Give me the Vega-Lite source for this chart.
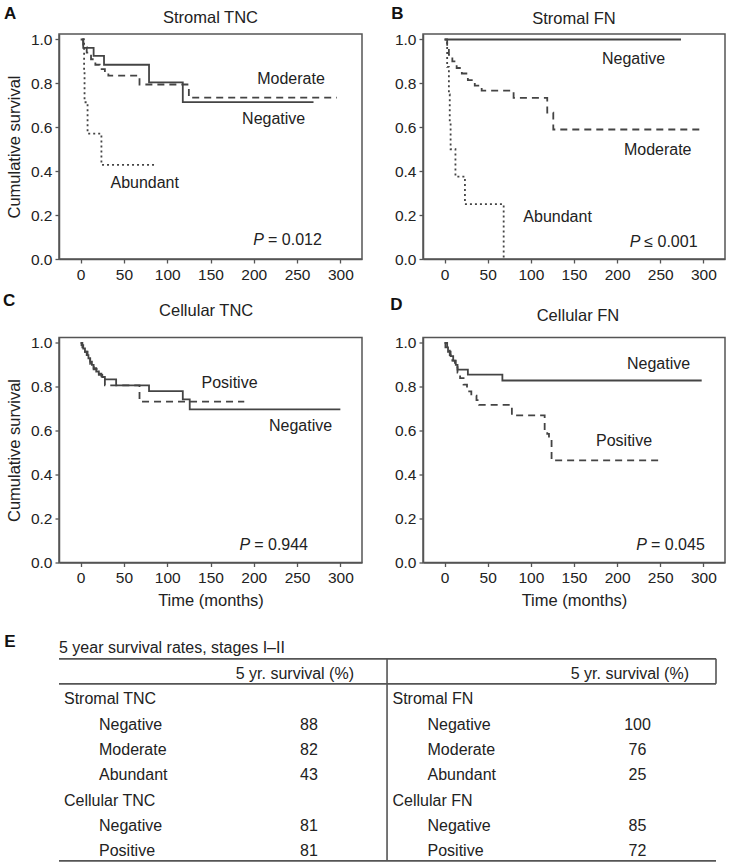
{
  "$schema": "https://vega.github.io/schema/vega-lite/v6.json",
  "padding": {"left": 2, "top": 4, "right": 0, "bottom": 0},
  "datasets": {
    "km": [
      {"panel":"A","group":"Negative","t":0,"s":1},{"panel":"A","group":"Negative","t":3,"s":0.962},{"panel":"A","group":"Negative","t":15,"s":0.925},{"panel":"A","group":"Negative","t":27,"s":0.885},{"panel":"A","group":"Negative","t":79,"s":0.805},{"panel":"A","group":"Negative","t":118,"s":0.715},{"panel":"A","group":"Negative","t":269,"s":0.715},
      {"panel":"A","group":"Moderate","t":2,"s":1},{"panel":"A","group":"Moderate","t":3,"s":0.965},{"panel":"A","group":"Moderate","t":7,"s":0.94},{"panel":"A","group":"Moderate","t":12,"s":0.91},{"panel":"A","group":"Moderate","t":17,"s":0.885},{"panel":"A","group":"Moderate","t":22,"s":0.865},{"panel":"A","group":"Moderate","t":28,"s":0.85},{"panel":"A","group":"Moderate","t":32,"s":0.835},{"panel":"A","group":"Moderate","t":68,"s":0.795},{"panel":"A","group":"Moderate","t":125,"s":0.735},{"panel":"A","group":"Moderate","t":296,"s":0.735},
      {"panel":"A","group":"Abundant","t":2,"s":1},{"panel":"A","group":"Abundant","t":4,"s":0.857},{"panel":"A","group":"Abundant","t":4.5,"s":0.714},{"panel":"A","group":"Abundant","t":8,"s":0.571},{"panel":"A","group":"Abundant","t":24,"s":0.429},{"panel":"A","group":"Abundant","t":85,"s":0.429},
      {"panel":"B","group":"Negative","t":0,"s":1},{"panel":"B","group":"Negative","t":274,"s":1},
      {"panel":"B","group":"Moderate","t":2,"s":1},{"panel":"B","group":"Moderate","t":3,"s":0.96},{"panel":"B","group":"Moderate","t":5,"s":0.93},{"panel":"B","group":"Moderate","t":9,"s":0.9},{"panel":"B","group":"Moderate","t":14,"s":0.87},{"panel":"B","group":"Moderate","t":20,"s":0.845},{"panel":"B","group":"Moderate","t":27,"s":0.815},{"panel":"B","group":"Moderate","t":35,"s":0.79},{"panel":"B","group":"Moderate","t":43,"s":0.767},{"panel":"B","group":"Moderate","t":80,"s":0.734},{"panel":"B","group":"Moderate","t":119,"s":0.667},{"panel":"B","group":"Moderate","t":126,"s":0.59},{"panel":"B","group":"Moderate","t":300,"s":0.59},
      {"panel":"B","group":"Abundant","t":0,"s":1},{"panel":"B","group":"Abundant","t":3,"s":0.875},{"panel":"B","group":"Abundant","t":5,"s":0.75},{"panel":"B","group":"Abundant","t":6,"s":0.625},{"panel":"B","group":"Abundant","t":7,"s":0.5},{"panel":"B","group":"Abundant","t":12.6,"s":0.375},{"panel":"B","group":"Abundant","t":23.6,"s":0.25},{"panel":"B","group":"Abundant","t":68.5,"s":0},
      {"panel":"C","group":"Negative","t":0,"s":1},{"panel":"C","group":"Negative","t":1,"s":0.99},{"panel":"C","group":"Negative","t":3,"s":0.975},{"panel":"C","group":"Negative","t":5,"s":0.96},{"panel":"C","group":"Negative","t":7,"s":0.945},{"panel":"C","group":"Negative","t":9,"s":0.93},{"panel":"C","group":"Negative","t":11,"s":0.915},{"panel":"C","group":"Negative","t":13,"s":0.9},{"panel":"C","group":"Negative","t":15,"s":0.885},{"panel":"C","group":"Negative","t":18,"s":0.87},{"panel":"C","group":"Negative","t":21,"s":0.855},{"panel":"C","group":"Negative","t":25,"s":0.845},{"panel":"C","group":"Negative","t":28,"s":0.834},{"panel":"C","group":"Negative","t":41,"s":0.807},{"panel":"C","group":"Negative","t":79,"s":0.781},{"panel":"C","group":"Negative","t":118,"s":0.743},{"panel":"C","group":"Negative","t":126,"s":0.698},{"panel":"C","group":"Negative","t":300,"s":0.698},
      {"panel":"C","group":"Positive","t":0,"s":1},{"panel":"C","group":"Positive","t":2,"s":0.98},{"panel":"C","group":"Positive","t":5,"s":0.96},{"panel":"C","group":"Positive","t":8,"s":0.93},{"panel":"C","group":"Positive","t":11,"s":0.905},{"panel":"C","group":"Positive","t":15,"s":0.88},{"panel":"C","group":"Positive","t":19,"s":0.86},{"panel":"C","group":"Positive","t":24,"s":0.84},{"panel":"C","group":"Positive","t":28,"s":0.807},{"panel":"C","group":"Positive","t":68,"s":0.733},{"panel":"C","group":"Positive","t":189,"s":0.733},
      {"panel":"D","group":"Negative","t":0,"s":1},{"panel":"D","group":"Negative","t":1,"s":0.98},{"panel":"D","group":"Negative","t":4,"s":0.96},{"panel":"D","group":"Negative","t":7,"s":0.94},{"panel":"D","group":"Negative","t":10,"s":0.92},{"panel":"D","group":"Negative","t":13,"s":0.9},{"panel":"D","group":"Negative","t":15,"s":0.879},{"panel":"D","group":"Negative","t":27,"s":0.856},{"panel":"D","group":"Negative","t":67,"s":0.829},{"panel":"D","group":"Negative","t":298,"s":0.829},
      {"panel":"D","group":"Positive","t":0,"s":1},{"panel":"D","group":"Positive","t":3,"s":0.97},{"panel":"D","group":"Positive","t":6,"s":0.945},{"panel":"D","group":"Positive","t":9,"s":0.92},{"panel":"D","group":"Positive","t":12,"s":0.89},{"panel":"D","group":"Positive","t":15,"s":0.865},{"panel":"D","group":"Positive","t":18,"s":0.84},{"panel":"D","group":"Positive","t":22,"s":0.81},{"panel":"D","group":"Positive","t":26,"s":0.78},{"panel":"D","group":"Positive","t":31,"s":0.76},{"panel":"D","group":"Positive","t":37,"s":0.74},{"panel":"D","group":"Positive","t":40,"s":0.718},{"panel":"D","group":"Positive","t":78,"s":0.67},{"panel":"D","group":"Positive","t":116,"s":0.6},{"panel":"D","group":"Positive","t":119,"s":0.586},{"panel":"D","group":"Positive","t":121,"s":0.565},{"panel":"D","group":"Positive","t":124,"s":0.465},{"panel":"D","group":"Positive","t":250,"s":0.465}
    ],
    "ann": [
      {"panel":"A","text":"Moderate","t":243,"s":0.82},{"panel":"A","text":"Negative","t":223,"s":0.64},{"panel":"A","text":"Abundant","t":74,"s":0.345},
      {"panel":"B","text":"Negative","t":219,"s":0.912},{"panel":"B","text":"Moderate","t":247,"s":0.498},{"panel":"B","text":"Abundant","t":131,"s":0.19},
      {"panel":"C","text":"Positive","t":172,"s":0.819},{"panel":"C","text":"Negative","t":254,"s":0.622},
      {"panel":"D","text":"Negative","t":248,"s":0.905},{"panel":"D","text":"Positive","t":208,"s":0.553}
    ],
    "pv": [
      {"panel":"A","rest":"= 0.012","t":213,"s":0.088},
      {"panel":"B","rest":"≤ 0.001","t":228,"s":0.076},
      {"panel":"C","rest":"= 0.944","t":197,"s":0.079},
      {"panel":"D","rest":"= 0.045","t":235.7,"s":0.079}
    ],
    "tbl": [
      {"side":"L","kind":"title","row":-1,"text":"5 year survival rates, stages I–II"},
      {"side":"L","kind":"header","row":0,"text":"5 yr. survival (%)"},
      {"side":"R","kind":"header","row":0,"text":"5 yr. survival (%)"},
      {"side":"L","kind":"group","row":1,"text":"Stromal TNC"},
      {"side":"L","kind":"sub","row":2,"text":"Negative","value":88},
      {"side":"L","kind":"sub","row":3,"text":"Moderate","value":82},
      {"side":"L","kind":"sub","row":4,"text":"Abundant","value":43},
      {"side":"L","kind":"group","row":5,"text":"Cellular TNC"},
      {"side":"L","kind":"sub","row":6,"text":"Negative","value":81},
      {"side":"L","kind":"sub","row":7,"text":"Positive","value":81},
      {"side":"R","kind":"group","row":1,"text":"Stromal FN"},
      {"side":"R","kind":"sub","row":2,"text":"Negative","value":100},
      {"side":"R","kind":"sub","row":3,"text":"Moderate","value":76},
      {"side":"R","kind":"sub","row":4,"text":"Abundant","value":25},
      {"side":"R","kind":"group","row":5,"text":"Cellular FN"},
      {"side":"R","kind":"sub","row":6,"text":"Negative","value":85},
      {"side":"R","kind":"sub","row":7,"text":"Positive","value":72}
    ]
  },
  "vconcat": [
    {
      "hconcat": [
        {
          "width": 303, "height": 225,
          "layer": [
            {"data": {"name": "km"}, "transform": [{"filter": "datum.panel === 'A'"}],
             "mark": {"type": "line", "interpolate": "step-after", "color": "#444", "strokeWidth": 1.8},
             "encoding": {
               "x": {"field": "t", "type": "quantitative", "scale": {"domain": [-25, 325], "nice": false, "zero": false},
                     "axis": {"values": [0,25,50,75,100,125,150,175,200,225,250,275,300], "labelExpr": "datum.value % 50 === 0 ? datum.label : ''", "tickSize": {"condition": {"test": "datum.value % 50 === 0", "value": 4}, "value": 2}, "title": null, "labelPadding": 4, "labelOverlap": false, "labelFlush": false}},
               "y": {"field": "s", "type": "quantitative", "scale": {"domain": [0, 1.025], "nice": false, "zero": false},
                     "axis": {"values": [0,0.1,0.2,0.3,0.4,0.5,0.6,0.7,0.8,0.9,1], "format": ".1f", "labelExpr": "round(datum.value*10) % 2 === 0 ? datum.label : ''", "tickSize": {"condition": {"test": "round(datum.value*10) % 2 === 0", "value": 4}, "value": 2}, "title": "Cumulative survival", "titlePadding": 8, "labelOverlap": false, "labelFlush": false}},
               "strokeDash": {"field": "group", "type": "nominal", "scale": {"domain": ["Negative","Moderate","Abundant","Positive"], "range": [[1,0],[7,5],[2,3],[7,5]]}, "legend": null}
             }},
            {"data": {"name": "ann"}, "transform": [{"filter": "datum.panel === 'A'"}],
             "mark": {"type": "text", "fontSize": 16, "align": "center", "baseline": "middle"},
             "encoding": {"x": {"field": "t", "type": "quantitative"}, "y": {"field": "s", "type": "quantitative"}, "text": {"field": "text"}}},
            {"data": {"name": "pv"}, "transform": [{"filter": "datum.panel === 'A'"}],
             "mark": {"type": "text", "fontSize": 16, "fontStyle": "italic", "align": "right", "baseline": "middle", "dx": -1},
             "encoding": {"x": {"field": "t", "type": "quantitative"}, "y": {"field": "s", "type": "quantitative"}, "text": {"value": "P"}}},
            {"data": {"name": "pv"}, "transform": [{"filter": "datum.panel === 'A'"}],
             "mark": {"type": "text", "fontSize": 16, "align": "left", "baseline": "middle", "dx": 3},
             "encoding": {"x": {"field": "t", "type": "quantitative"}, "y": {"field": "s", "type": "quantitative"}, "text": {"field": "rest"}}},
            {"data": {"values": [{"name": "Stromal TNC"}]},
             "mark": {"type": "text", "fontSize": 16.5, "align": "center", "baseline": "middle"},
             "encoding": {"x": {"datum": 150, "type": "quantitative"}, "y": {"datum": 1.098, "type": "quantitative"}, "text": {"field": "name"}}},
            {"data": {"values": [{"letter": "A"}]},
             "mark": {"type": "text", "fontSize": 17, "fontWeight": "bold", "align": "center", "baseline": "middle", "color": "#111"},
             "encoding": {"x": {"datum": -81.5, "type": "quantitative"}, "y": {"datum": 1.117, "type": "quantitative"}, "text": {"field": "letter"}}}
          ]
        },
        {
          "width": 302, "height": 225,
          "layer": [
            {"data": {"name": "km"}, "transform": [{"filter": "datum.panel === 'B'"}],
             "mark": {"type": "line", "interpolate": "step-after", "color": "#444", "strokeWidth": 1.8},
             "encoding": {
               "x": {"field": "t", "type": "quantitative", "scale": {"domain": [-25, 325], "nice": false, "zero": false},
                     "axis": {"values": [0,25,50,75,100,125,150,175,200,225,250,275,300], "labelExpr": "datum.value % 50 === 0 ? datum.label : ''", "tickSize": {"condition": {"test": "datum.value % 50 === 0", "value": 4}, "value": 2}, "title": null, "labelPadding": 4, "labelOverlap": false, "labelFlush": false}},
               "y": {"field": "s", "type": "quantitative", "scale": {"domain": [0, 1.025], "nice": false, "zero": false},
                     "axis": {"values": [0,0.1,0.2,0.3,0.4,0.5,0.6,0.7,0.8,0.9,1], "format": ".1f", "labelExpr": "round(datum.value*10) % 2 === 0 ? datum.label : ''", "tickSize": {"condition": {"test": "round(datum.value*10) % 2 === 0", "value": 4}, "value": 2}, "title": null, "labelOverlap": false, "labelFlush": false}},
               "strokeDash": {"field": "group", "type": "nominal", "scale": {"domain": ["Negative","Moderate","Abundant","Positive"], "range": [[1,0],[7,5],[2,3],[7,5]]}, "legend": null}
             }},
            {"data": {"name": "ann"}, "transform": [{"filter": "datum.panel === 'B'"}],
             "mark": {"type": "text", "fontSize": 16, "align": "center", "baseline": "middle"},
             "encoding": {"x": {"field": "t", "type": "quantitative"}, "y": {"field": "s", "type": "quantitative"}, "text": {"field": "text"}}},
            {"data": {"name": "pv"}, "transform": [{"filter": "datum.panel === 'B'"}],
             "mark": {"type": "text", "fontSize": 16, "fontStyle": "italic", "align": "right", "baseline": "middle", "dx": -1},
             "encoding": {"x": {"field": "t", "type": "quantitative"}, "y": {"field": "s", "type": "quantitative"}, "text": {"value": "P"}}},
            {"data": {"name": "pv"}, "transform": [{"filter": "datum.panel === 'B'"}],
             "mark": {"type": "text", "fontSize": 16, "align": "left", "baseline": "middle", "dx": 3},
             "encoding": {"x": {"field": "t", "type": "quantitative"}, "y": {"field": "s", "type": "quantitative"}, "text": {"field": "rest"}}},
            {"data": {"values": [{"name": "Stromal FN"}]},
             "mark": {"type": "text", "fontSize": 16.5, "align": "center", "baseline": "middle"},
             "encoding": {"x": {"datum": 150, "type": "quantitative"}, "y": {"datum": 1.093, "type": "quantitative"}, "text": {"field": "name"}}},
            {"data": {"values": [{"letter": "B"}]},
             "mark": {"type": "text", "fontSize": 17, "fontWeight": "bold", "align": "center", "baseline": "middle", "color": "#111"},
             "encoding": {"x": {"datum": -54.6, "type": "quantitative"}, "y": {"datum": 1.117, "type": "quantitative"}, "text": {"field": "letter"}}}
          ]
        }
      ],
      "spacing": 61, "bounds": "flush"
    },
    {
      "hconcat": [
        {
          "width": 303, "height": 225,
          "layer": [
            {"data": {"name": "km"}, "transform": [{"filter": "datum.panel === 'C'"}],
             "mark": {"type": "line", "interpolate": "step-after", "color": "#444", "strokeWidth": 1.8},
             "encoding": {
               "x": {"field": "t", "type": "quantitative", "scale": {"domain": [-25, 325], "nice": false, "zero": false},
                     "axis": {"values": [0,25,50,75,100,125,150,175,200,225,250,275,300], "labelExpr": "datum.value % 50 === 0 ? datum.label : ''", "tickSize": {"condition": {"test": "datum.value % 50 === 0", "value": 4}, "value": 2}, "title": "Time (months)", "titlePadding": 6, "labelPadding": 4, "labelOverlap": false, "labelFlush": false}},
               "y": {"field": "s", "type": "quantitative", "scale": {"domain": [0, 1.025], "nice": false, "zero": false},
                     "axis": {"values": [0,0.1,0.2,0.3,0.4,0.5,0.6,0.7,0.8,0.9,1], "format": ".1f", "labelExpr": "round(datum.value*10) % 2 === 0 ? datum.label : ''", "tickSize": {"condition": {"test": "round(datum.value*10) % 2 === 0", "value": 4}, "value": 2}, "title": "Cumulative survival", "titlePadding": 8, "labelOverlap": false, "labelFlush": false}},
               "strokeDash": {"field": "group", "type": "nominal", "scale": {"domain": ["Negative","Moderate","Abundant","Positive"], "range": [[1,0],[7,5],[2,3],[7,5]]}, "legend": null}
             }},
            {"data": {"name": "ann"}, "transform": [{"filter": "datum.panel === 'C'"}],
             "mark": {"type": "text", "fontSize": 16, "align": "center", "baseline": "middle"},
             "encoding": {"x": {"field": "t", "type": "quantitative"}, "y": {"field": "s", "type": "quantitative"}, "text": {"field": "text"}}},
            {"data": {"name": "pv"}, "transform": [{"filter": "datum.panel === 'C'"}],
             "mark": {"type": "text", "fontSize": 16, "fontStyle": "italic", "align": "right", "baseline": "middle", "dx": -1},
             "encoding": {"x": {"field": "t", "type": "quantitative"}, "y": {"field": "s", "type": "quantitative"}, "text": {"value": "P"}}},
            {"data": {"name": "pv"}, "transform": [{"filter": "datum.panel === 'C'"}],
             "mark": {"type": "text", "fontSize": 16, "align": "left", "baseline": "middle", "dx": 3},
             "encoding": {"x": {"field": "t", "type": "quantitative"}, "y": {"field": "s", "type": "quantitative"}, "text": {"field": "rest"}}},
            {"data": {"values": [{"name": "Cellular TNC"}]},
             "mark": {"type": "text", "fontSize": 16.5, "align": "center", "baseline": "middle"},
             "encoding": {"x": {"datum": 145, "type": "quantitative"}, "y": {"datum": 1.146, "type": "quantitative"}, "text": {"field": "name"}}},
            {"data": {"values": [{"letter": "C"}]},
             "mark": {"type": "text", "fontSize": 17, "fontWeight": "bold", "align": "center", "baseline": "middle", "color": "#111"},
             "encoding": {"x": {"datum": -82.7, "type": "quantitative"}, "y": {"datum": 1.191, "type": "quantitative"}, "text": {"field": "letter"}}}
          ]
        },
        {
          "width": 302, "height": 225,
          "layer": [
            {"data": {"name": "km"}, "transform": [{"filter": "datum.panel === 'D'"}],
             "mark": {"type": "line", "interpolate": "step-after", "color": "#444", "strokeWidth": 1.8},
             "encoding": {
               "x": {"field": "t", "type": "quantitative", "scale": {"domain": [-25, 325], "nice": false, "zero": false},
                     "axis": {"values": [0,25,50,75,100,125,150,175,200,225,250,275,300], "labelExpr": "datum.value % 50 === 0 ? datum.label : ''", "tickSize": {"condition": {"test": "datum.value % 50 === 0", "value": 4}, "value": 2}, "title": "Time (months)", "titlePadding": 6, "labelPadding": 4, "labelOverlap": false, "labelFlush": false}},
               "y": {"field": "s", "type": "quantitative", "scale": {"domain": [0, 1.025], "nice": false, "zero": false},
                     "axis": {"values": [0,0.1,0.2,0.3,0.4,0.5,0.6,0.7,0.8,0.9,1], "format": ".1f", "labelExpr": "round(datum.value*10) % 2 === 0 ? datum.label : ''", "tickSize": {"condition": {"test": "round(datum.value*10) % 2 === 0", "value": 4}, "value": 2}, "title": null, "labelOverlap": false, "labelFlush": false}},
               "strokeDash": {"field": "group", "type": "nominal", "scale": {"domain": ["Negative","Moderate","Abundant","Positive"], "range": [[1,0],[7,5],[2,3],[7,5]]}, "legend": null}
             }},
            {"data": {"name": "ann"}, "transform": [{"filter": "datum.panel === 'D'"}],
             "mark": {"type": "text", "fontSize": 16, "align": "center", "baseline": "middle"},
             "encoding": {"x": {"field": "t", "type": "quantitative"}, "y": {"field": "s", "type": "quantitative"}, "text": {"field": "text"}}},
            {"data": {"name": "pv"}, "transform": [{"filter": "datum.panel === 'D'"}],
             "mark": {"type": "text", "fontSize": 16, "fontStyle": "italic", "align": "right", "baseline": "middle", "dx": -1},
             "encoding": {"x": {"field": "t", "type": "quantitative"}, "y": {"field": "s", "type": "quantitative"}, "text": {"value": "P"}}},
            {"data": {"name": "pv"}, "transform": [{"filter": "datum.panel === 'D'"}],
             "mark": {"type": "text", "fontSize": 16, "align": "left", "baseline": "middle", "dx": 3},
             "encoding": {"x": {"field": "t", "type": "quantitative"}, "y": {"field": "s", "type": "quantitative"}, "text": {"field": "rest"}}},
            {"data": {"values": [{"name": "Cellular FN"}]},
             "mark": {"type": "text", "fontSize": 16.5, "align": "center", "baseline": "middle"},
             "encoding": {"x": {"datum": 154.6, "type": "quantitative"}, "y": {"datum": 1.123, "type": "quantitative"}, "text": {"field": "name"}}},
            {"data": {"values": [{"letter": "D"}]},
             "mark": {"type": "text", "fontSize": 17, "fontWeight": "bold", "align": "center", "baseline": "middle", "color": "#111"},
             "encoding": {"x": {"datum": -55.7, "type": "quantitative"}, "y": {"datum": 1.171, "type": "quantitative"}, "text": {"field": "letter"}}}
          ]
        }
      ],
      "spacing": 61, "bounds": "flush"
    },
    {
      "width": 657, "height": 248,
      "view": {"stroke": null},
      "data": {"name": "tbl"},
      "layer": [
        {"data": {"values": [{}]}, "mark": {"type": "rule", "color": "#555", "strokeWidth": 1.8},
         "encoding": {"x": {"datum": 0, "type": "quantitative", "scale": {"domain": [0, 1]}, "axis": null}, "x2": {"datum": 1},
                      "y": {"datum": -0.59, "type": "quantitative", "scale": {"domain": [-2.28, 7.5], "reverse": true, "nice": false, "zero": false}, "axis": null}}},
        {"data": {"values": [{}]}, "mark": {"type": "rule", "color": "#555", "strokeWidth": 1.8},
         "encoding": {"x": {"datum": 0, "type": "quantitative", "scale": {"domain": [0, 1]}, "axis": null}, "x2": {"datum": 1},
                      "y": {"datum": 0.395, "type": "quantitative"}}},
        {"data": {"values": [{}]}, "mark": {"type": "rule", "color": "#555", "strokeWidth": 1.8},
         "encoding": {"x": {"datum": 0, "type": "quantitative", "scale": {"domain": [0, 1]}, "axis": null}, "x2": {"datum": 1},
                      "y": {"datum": 7.38, "type": "quantitative"}}},
        {"data": {"values": [{}]}, "mark": {"type": "rule", "color": "#555", "strokeWidth": 1.6},
         "encoding": {"x": {"datum": 0.4993, "type": "quantitative", "scale": {"domain": [0, 1]}, "axis": null},
                      "y": {"datum": -0.59, "type": "quantitative"}, "y2": {"datum": 7.38}}},
        {"data": {"values": [{}]}, "mark": {"type": "rule", "color": "#555", "strokeWidth": 1.6},
         "encoding": {"x": {"datum": 1, "type": "quantitative", "scale": {"domain": [0, 1]}, "axis": null},
                      "y": {"datum": -0.59, "type": "quantitative"}, "y2": {"datum": 0.395}}},
        {"transform": [{"filter": "datum.kind === 'title'"}],
         "mark": {"type": "text", "fontSize": 16, "align": "left", "baseline": "middle", "dx": -164.25},
         "encoding": {"x": {"field": "side", "type": "nominal", "scale": {"domain": ["L", "R"], "paddingInner": 0, "paddingOuter": 0}, "axis": null},
                      "y": {"field": "row", "type": "quantitative"}, "text": {"field": "text"}}},
        {"transform": [{"filter": "datum.kind === 'header' && datum.side === 'L'"}],
         "mark": {"type": "text", "fontSize": 16, "align": "right", "baseline": "middle", "dx": 130.75},
         "encoding": {"x": {"field": "side", "type": "nominal", "scale": {"domain": ["L", "R"], "paddingInner": 0, "paddingOuter": 0}, "axis": null},
                      "y": {"field": "row", "type": "quantitative"}, "text": {"field": "text"}}},
        {"transform": [{"filter": "datum.kind === 'header' && datum.side === 'R'"}],
         "mark": {"type": "text", "fontSize": 16, "align": "right", "baseline": "middle", "dx": 137.25},
         "encoding": {"x": {"field": "side", "type": "nominal", "scale": {"domain": ["L", "R"], "paddingInner": 0, "paddingOuter": 0}, "axis": null},
                      "y": {"field": "row", "type": "quantitative"}, "text": {"field": "text"}}},
        {"transform": [{"filter": "datum.kind === 'group'"}],
         "mark": {"type": "text", "fontSize": 16, "align": "left", "baseline": "middle", "dx": -159.25},
         "encoding": {"x": {"field": "side", "type": "nominal", "scale": {"domain": ["L", "R"], "paddingInner": 0, "paddingOuter": 0}, "axis": null},
                      "y": {"field": "row", "type": "quantitative"}, "text": {"field": "text"}}},
        {"transform": [{"filter": "datum.kind === 'sub'"}],
         "mark": {"type": "text", "fontSize": 16, "align": "left", "baseline": "middle", "dx": -124.25},
         "encoding": {"x": {"field": "side", "type": "nominal", "scale": {"domain": ["L", "R"], "paddingInner": 0, "paddingOuter": 0}, "axis": null},
                      "y": {"field": "row", "type": "quantitative"}, "text": {"field": "text"}}},
        {"transform": [{"filter": "datum.kind === 'sub'"}],
         "mark": {"type": "text", "fontSize": 16, "align": "center", "baseline": "middle", "dx": 85.75},
         "encoding": {"x": {"field": "side", "type": "nominal", "scale": {"domain": ["L", "R"], "paddingInner": 0, "paddingOuter": 0}, "axis": null},
                      "y": {"field": "row", "type": "quantitative"}, "text": {"field": "value", "type": "nominal"}}},
        {"data": {"values": [{"letter": "E"}]},
         "mark": {"type": "text", "fontSize": 17, "fontWeight": "bold", "align": "center", "baseline": "middle", "dx": -213.25, "color": "#111"},
         "encoding": {"x": {"datum": "L", "type": "nominal", "scale": {"domain": ["L", "R"], "paddingInner": 0, "paddingOuter": 0}, "axis": null},
                      "y": {"datum": -1.25, "type": "quantitative"}, "text": {"field": "letter"}}}
      ],
      "resolve": {"scale": {"x": "independent"}}
    }
  ],
  "spacing": 6.5,
  "config": {
    "font": "Liberation Sans",
    "view": {"stroke": "#555", "strokeWidth": 1.5},
    "axis": {"grid": false, "domainColor": "#555", "domainWidth": 1.5, "tickColor": "#555", "tickWidth": 1.3, "labelFont": "Liberation Sans", "labelFontSize": 15.5, "labelColor": "#222", "labelPadding": 3, "titleFont": "Liberation Sans", "titleFontSize": 16.5, "titleFontWeight": "normal", "titleColor": "#222"},
    "text": {"font": "Liberation Sans", "color": "#222"}
  }
}
